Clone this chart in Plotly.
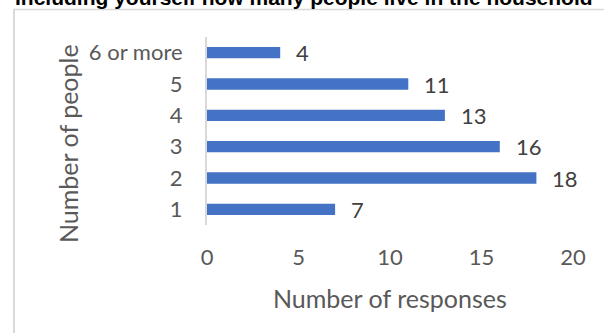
import plotly.graph_objects as go

categories = ["1", "2", "3", "4", "5", "6 or more"]
responses = [7, 18, 16, 13, 11, 4]
x_ticks = [0, 5, 10, 15, 20]

title_text = "Including yourself how many people live in the household"
x_title = "Number of responses"
y_title = "Number of people"

W, H = 604, 333
L, R, T, B = 207, 573, 37, 225  # plot area in pixels

def px_x(p):
    return (p - L) / (R - L)

def px_y(p):
    return (B - p) / (B - T)

FONT = "Lato"
TICK_COLOR = "#595959"

fig = go.Figure()
fig.add_trace(go.Bar(
    y=categories, x=responses, orientation="h",
    marker=dict(color="#4472C4", line=dict(width=0)),
    width=0.36, hoverinfo="skip",
))

# data labels (y given as category index)
for i, v in enumerate(responses):
    fig.add_annotation(x=v, y=i, xref="x", yref="y", text=str(v),
                       showarrow=False, xanchor="left", yanchor="middle",
                       xshift=14, font=dict(family=FONT, size=22, color="#404040"))

# title (partially cut at top, as in the reference)
fig.add_annotation(x=px_x(13), y=px_y(11), xref="paper", yref="paper",
                   text="<b>" + title_text + "</b>", showarrow=False,
                   xanchor="left", yanchor="bottom",
                   font=dict(family="Liberation Sans", size=21, color="#000000"))

# y axis title
fig.add_annotation(x=px_x(68), y=px_y(144), xref="paper", yref="paper",
                   text=y_title, showarrow=False, textangle=-90,
                   xanchor="center", yanchor="middle",
                   font=dict(family=FONT, size=25, color=TICK_COLOR))

# x axis title
fig.add_annotation(x=px_x(390), y=px_y(298), xref="paper", yref="paper",
                   text=x_title, showarrow=False,
                   xanchor="center", yanchor="middle",
                   font=dict(family=FONT, size=25, color=TICK_COLOR))

# chart frame lines
fig.add_shape(type="line", xref="paper", yref="paper",
              x0=px_x(14), x1=px_x(14), y0=px_y(9), y1=px_y(340),
              line=dict(color="#D9D9D9", width=2))
fig.add_shape(type="line", xref="paper", yref="paper",
              x0=px_x(13), x1=px_x(610), y0=px_y(9.5), y1=px_y(9.5),
              line=dict(color="#D9D9D9", width=1.5))

fig.update_layout(
    width=W, height=H,
    margin=dict(l=L, r=W - R, t=T, b=H - B, pad=0),
    paper_bgcolor="white", plot_bgcolor="white",
    showlegend=False,
    xaxis=dict(range=[0, 20], tickvals=x_ticks, showgrid=False, zeroline=False,
               showline=False, ticks="", ticklabelstandoff=17,
               tickfont=dict(family=FONT, size=22, color=TICK_COLOR),
               fixedrange=True, automargin=False),
    yaxis=dict(categoryorder="array", categoryarray=categories,
               range=[-0.5, 5.5],
               showgrid=False, zeroline=False, showline=True, linecolor="#D9D9D9",
               linewidth=2, ticks="", ticklabelstandoff=18,
               tickfont=dict(family=FONT, size=22, color=TICK_COLOR),
               fixedrange=True, automargin=False),
)

fig.write_html("out.html", config={"displayModeBar": False},
               post_script="document.body.style.margin='0px';")
